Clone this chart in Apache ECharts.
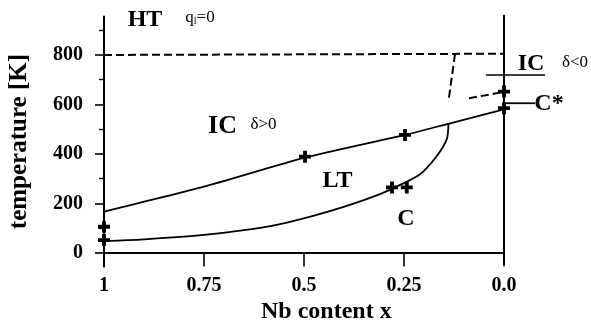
<!DOCTYPE html>
<html><head><meta charset="utf-8">
<script src="https://cdn.jsdelivr.net/npm/echarts@6/dist/echarts.min.js"></script>
<style>html,body{margin:0;padding:0;background:#fff}#c{width:591px;height:327px}</style>
</head><body><div id="c"></div>
<script>
// ---- data ----
const xTicks = [1, 0.75, 0.5, 0.25, 0];
const yTicks = [0, 200, 400, 600, 800];
const yMinorTicks = [100, 300, 500, 700, 900];
// IC / LT boundary (upper solid line)
const upperX = [1, 0.75, 0.5, 0.25, 0.139, 0];
const upperT = [167, 268, 384, 476, 522, 580];
// LT / C boundary (lower solid curve)
const lowerX = [1, 0.9, 0.75, 0.65, 0.56, 0.477, 0.393, 0.31, 0.2725, 0.21, 0.168, 0.143, 0.139];
const lowerT = [48, 55, 73, 92, 117, 150, 190, 238, 265, 318, 392, 460, 522];
// HT boundary (dashed)
const htX = [1, 0];
const htT = [800, 805];
const slantX = [0.1225, 0.139];
const slantT = [804, 611];
const cstarDashX = [0.0875, 0.01];
const cstarDashT = [625, 648];
// short solid lines at the right (IC δ<0 and C*)
const icLineX = [0.045, -0.1025];
const icLineT = [719, 719];
const cstarLineX = [0, -0.0775];
const cstarLineT = [605, 605];
// measured points (+)
const ptX = [1, 1, 0.4975, 0.2475, 0.28, 0.243, 0, 0];
const ptT = [106, 52, 389, 477, 265, 265, 652, 585];
// region labels
const annoText = ['HT', 'q{s|l}=0', 'IC', 'δ>0', 'LT', 'C', 'IC', 'δ<0', 'C*'];
const annoX = [0.8975, 0.76, 0.70375, 0.60125, 0.41625, 0.245, -0.0675, -0.1775, -0.1125];
const annoT = [941, 953, 513, 517, 291, 137, 766, 770, 602];
const annoBold = [true, false, true, false, true, true, true, false, true];
// frame lines
const baseX = [1.0275, 0];
const baseT = [0, 0];
const rightX = [0, 0];
const rightT = [-48, 962];

// ---- build ----
const zip = (a, b) => a.map((v, i) => [v, b[i]]);
const FONT = 'Liberation Serif';
const solid = (data, extra) => Object.assign({
  type: 'line', data, symbol: 'none', silent: true,
  lineStyle: { color: '#000', width: 1.8 }
}, extra || {});

const chart = echarts.init(document.getElementById('c'), null, { renderer: 'canvas' });
chart.setOption({
  animation: false,
  backgroundColor: '#fff',
  grid: { left: 104, right: 7, top: 16.6, bottom: 60.4, containLabel: false, outerBoundsMode: 'none' },
  xAxis: {
    type: 'value', min: -0.2, max: 1, inverse: true,
    axisLine: { show: false, onZero: false },
    splitLine: { show: false },
    axisTick: { show: true, inside: true, length: 13, customValues: xTicks, lineStyle: { color: '#000', width: 1.6 } },
    axisLabel: {
      customValues: xTicks, margin: 9, color: '#000',
      fontFamily: FONT, fontWeight: 'bold', fontSize: 20,
      formatter: v => (v === 0 ? '0.0' : String(v))
    }
  },
  yAxis: [{
    type: 'value', min: -55, max: 955, position: 'left',
    name: 'temperature [K]', nameLocation: 'middle', nameGap: 72, nameRotate: 90,
    nameTextStyle: { fontFamily: FONT, fontWeight: 'bold', fontSize: 25, color: '#000' },
    axisLine: { show: true, onZero: false, lineStyle: { color: '#000', width: 2 } },
    splitLine: { show: false },
    axisTick: { show: true, length: 9, customValues: yTicks, lineStyle: { color: '#000', width: 1.6 } },
    axisLabel: { customValues: yTicks, margin: 21, color: '#000', fontFamily: FONT, fontWeight: 'bold', fontSize: 20 }
  }, {
    type: 'value', min: -55, max: 955, position: 'right', offset: -480,
    axisLine: { show: false, onZero: false }, splitLine: { show: false },
    axisTick: { show: true, inside: true, length: 5, customValues: yMinorTicks, lineStyle: { color: '#000', width: 1.4 } },
    axisLabel: { show: false }
  }],
  graphic: [{
    type: 'text', left: 326 - 65, top: 300,
    style: { text: 'Nb content x', font: 'bold 24px "Liberation Serif"', fill: '#000' }
  }],
  series: [
    solid(zip(baseX, baseT), { clip: false, lineStyle: { color: '#000', width: 2 } }),
    solid(zip(rightX, rightT), { clip: false, lineStyle: { color: '#000', width: 2 } }),
    solid(zip(upperX, upperT), { smooth: 0.2 }),
    solid(zip(lowerX, lowerT), { smooth: 0.3 }),
    solid(zip(htX, htT), { lineStyle: { color: '#000', width: 2, type: [8, 4] } }),
    solid(zip(slantX, slantT), { lineStyle: { color: '#000', width: 2, type: [8, 4] } }),
    solid(zip(cstarDashX, cstarDashT), { lineStyle: { color: '#000', width: 2, type: [8, 4] } }),
    solid(zip(icLineX, icLineT), { clip: false, lineStyle: { color: '#000', width: 1.5 } }),
    solid(zip(cstarLineX, cstarLineT), { clip: false, lineStyle: { color: '#000', width: 1.8 } }),
    {
      type: 'scatter', silent: true, clip: false,
      symbol: 'path://M3.4,0H6.6V3.4H10V6.6H6.6V10H3.4V6.6H0V3.4H3.4Z', symbolSize: 12,
      itemStyle: { color: '#000', opacity: 1 },
      data: zip(ptX, ptT)
    },
    {
      type: 'scatter', silent: true, clip: false, symbolSize: 0.01,
      itemStyle: { color: '#000', opacity: 1 },
      data: annoText.map((t, i) => ({
        value: [annoX[i], annoT[i]],
        label: {
          show: true, position: 'inside', formatter: t, color: '#000', opacity: 1,
          fontFamily: FONT, fontWeight: annoBold[i] ? 'bold' : 'normal',
          fontSize: annoBold[i] ? (i === 2 ? 26 : 24) : 17,
          rich: { s: { fontSize: 10, verticalAlign: 'bottom', fontFamily: FONT, color: '#000', padding: [8, 0, 0, 0] } }
        }
      }))
    }
  ]
});
</script></body></html>
